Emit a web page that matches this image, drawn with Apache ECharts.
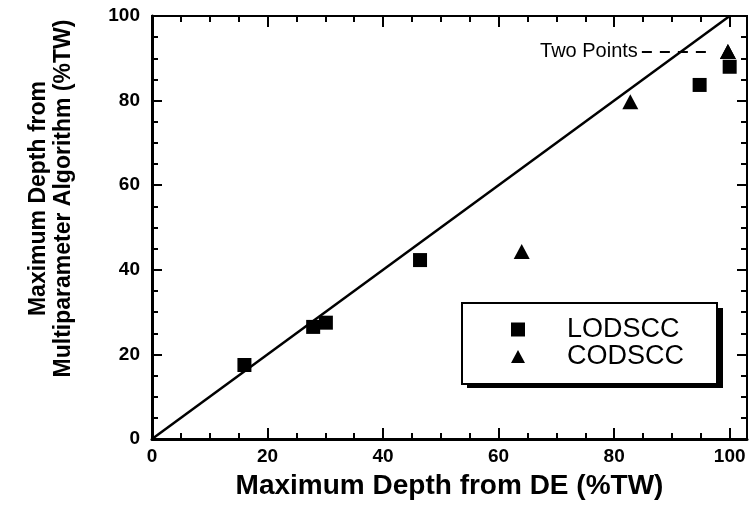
<!DOCTYPE html>
<html>
<head>
<meta charset="utf-8">
<script src="https://cdn.jsdelivr.net/npm/echarts@6/dist/echarts.min.js"></script>
<style>html,body{margin:0;padding:0;background:#fff}#chart{width:755px;height:506px}</style>
</head>
<body>
<div id="chart"></div>
<script>
// ---- data ----
const xMajorTicks = [0, 20, 40, 60, 80, 100];
const xMinorTicks = [5, 10, 15, 25, 30, 35, 45, 50, 55, 65, 70, 75, 85, 90, 95];
const yMajorTicks = [0, 20, 40, 60, 80, 100];
const yMinorTicks = [5, 10, 15, 25, 30, 35, 45, 50, 55, 65, 70, 75, 85, 90, 95];
const lodscc = [[16, 17.5], [27.9, 26.5], [30.1, 27.5], [46.4, 42.3], [94.8, 83.7], [100, 88]];
const codscc = [[64, 44.3], [82.8, 79.7], [99.7, 91.6], [99.7, 91.6]];
const identityLine = [[0, 0], [100, 100]];
const twoPointsLine = [[84.8, 91.6], [97, 91.6]];
const seriesNames = ['LODSCC', 'CODSCC'];
const xTitle = 'Maximum Depth from DE (%TW)';
const yTitle = 'Maximum Depth from\nMultiparameter Algorithm (%TW)';
const annotationText = 'Two Points';

const FONT = 'Liberation Sans, Arial, Helvetica, sans-serif';
const BLACK = '#000';
const X_MAX = 103;
const SQUARE_PATH = 'path://M0 0H10V10H0Z';
const TRIANGLE_PATH = 'path://M8 0L16 15H0Z';

const gridBox = {left: 152, right: 8, top: 16, bottom: 67};

function xAx(gridIndex, position, ticks, len, lineW, withLabel) {
  return {
    type: 'value', gridIndex, position, min: 0, max: X_MAX,
    axisLine: {show: lineW > 0, onZero: false, lineStyle: {color: BLACK, width: lineW || 1}},
    axisTick: {show: true, inside: true, length: len, customValues: ticks, lineStyle: {color: BLACK, width: 2}},
    axisLabel: withLabel ? {show: true, customValues: ticks, margin: 8, fontSize: 19, fontWeight: 'bold', color: BLACK, fontFamily: FONT} : {show: false},
    splitLine: {show: false}
  };
}
function yAx(gridIndex, position, ticks, len, lineW, withLabel) {
  return {
    type: 'value', gridIndex, position, min: 0, max: 100,
    axisLine: {show: lineW > 0, onZero: false, lineStyle: {color: BLACK, width: lineW || 1}},
    axisTick: {show: true, inside: true, length: len, customValues: ticks, lineStyle: {color: BLACK, width: 2}},
    axisLabel: withLabel ? {show: true, customValues: ticks, margin: 12, fontSize: 19, fontWeight: 'bold', color: BLACK, fontFamily: FONT} : {show: false},
    splitLine: {show: false}
  };
}

const xMain = xAx(0, 'bottom', xMajorTicks, 11, 3, true);
xMain.name = xTitle;
xMain.nameLocation = 'middle';
xMain.nameGap = 33;
xMain.nameTextStyle = {fontSize: 28, fontWeight: 'bold', color: BLACK, fontFamily: FONT};

const yMain = yAx(0, 'left', yMajorTicks, 10, 3, true);
yMain.name = yTitle;
yMain.nameLocation = 'middle';
yMain.nameRotate = 90;
yMain.nameGap = 76;
yMain.nameTextStyle = {fontSize: 23, fontWeight: 'bold', color: BLACK, fontFamily: FONT, lineHeight: 25, padding: [0, 0, 0, 58]};

const option = {
  animation: false,
  backgroundColor: '#fff',
  grid: [
    Object.assign({show: true, borderColor: BLACK, borderWidth: 2, backgroundColor: 'transparent', containLabel: false}, gridBox),
    Object.assign({show: false, containLabel: false}, gridBox)
  ],
  xAxis: [
    xMain,
    xAx(0, 'top', xMajorTicks, 11, 2, false),
    xAx(1, 'bottom', xMinorTicks, 6, 0, false),
    xAx(1, 'top', xMinorTicks, 6, 0, false)
  ],
  yAxis: [
    yMain,
    yAx(0, 'right', yMajorTicks, 10, 2, false),
    yAx(1, 'left', yMinorTicks, 6, 0, false),
    yAx(1, 'right', yMinorTicks, 6, 0, false)
  ],
  // drop shadow of the legend box (decoration only)
  graphic: [{
    type: 'rect', left: 467, top: 308, z: 0, silent: true,
    shape: {width: 256, height: 80},
    style: {fill: BLACK}
  }],
  legend: {
    orient: 'vertical', left: 462, top: 303, z: 10,
    padding: [13, 33, 14, 49], itemGap: 0, itemWidth: 14, itemHeight: 14,
    backgroundColor: '#fff', borderColor: BLACK, borderWidth: 2, borderRadius: 0,
    selectedMode: false,
    itemStyle: {opacity: 1},
    formatter: '{sp|}{name}',
    textStyle: {fontSize: 27, color: BLACK, fontFamily: FONT, lineHeight: 26, rich: {sp: {width: 37}}},
    data: [{name: seriesNames[0], icon: SQUARE_PATH}, {name: seriesNames[1], icon: TRIANGLE_PATH}]
  },
  series: [
    {
      name: 'identity', type: 'line', xAxisIndex: 0, yAxisIndex: 0,
      data: identityLine, symbol: 'none', silent: true, z: 1,
      lineStyle: {color: BLACK, width: 2.5}
    },
    {
      name: seriesNames[0], type: 'scatter', xAxisIndex: 0, yAxisIndex: 0,
      data: lodscc, symbol: 'rect', symbolSize: 14, z: 3,
      itemStyle: {color: BLACK, opacity: 1}
    },
    {
      name: seriesNames[1], type: 'scatter', xAxisIndex: 0, yAxisIndex: 0,
      data: codscc, symbol: 'triangle', symbolSize: [16, 15], z: 3,
      itemStyle: {color: BLACK, opacity: 1},
      markLine: {
        silent: true, symbol: 'none', animation: false,
        lineStyle: {color: BLACK, width: 2, type: [10, 8], opacity: 1},
        label: {show: true, position: 'start', distance: 4, formatter: annotationText, color: BLACK, fontSize: 20, fontFamily: FONT},
        data: [[{coord: twoPointsLine[0]}, {coord: twoPointsLine[1]}]]
      }
    }
  ]
};

const chart = echarts.init(document.getElementById('chart'), null, {renderer: 'canvas'});
chart.setOption(option);
</script>
</body>
</html>
